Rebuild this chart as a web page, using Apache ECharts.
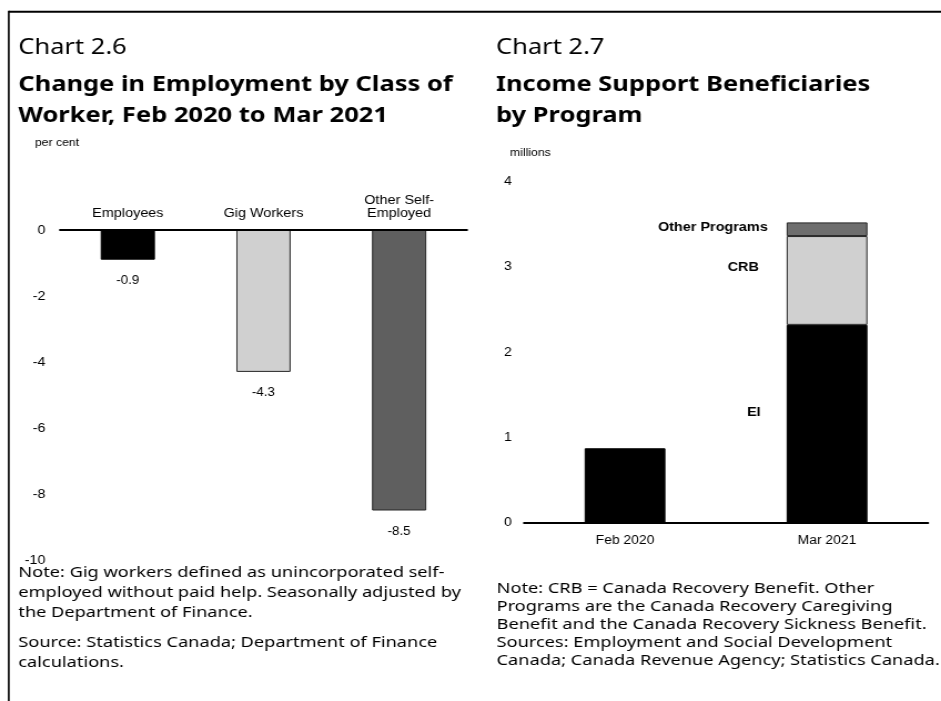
<!DOCTYPE html>
<html>
<head>
<meta charset="utf-8">
<style>
  html, body { margin: 0; padding: 0; background: #fff; overflow: hidden; }
  /* the page artwork is laid out 848 px wide and widened to fill 941 px */
  #main { width: 848px; height: 701px; transform: scaleX(1.1097); transform-origin: 0 0; }
</style>
<script src="https://cdn.jsdelivr.net/npm/echarts@6/dist/echarts.min.js"></script>
</head>
<body>
<div id="main"></div>
<script>
// Chart 2.6 — change in employment by class of worker (per cent)
const workerClasses = ['Employees', 'Gig Workers', 'Other Self-\nEmployed'];
const employmentChange = [-0.9, -4.3, -8.5];
const workerColors = ['#000000', '#d0d0d0', '#5f5f5f'];
const pctTicks = [0, -2, -4, -6, -8, -10];

// Chart 2.7 — income support beneficiaries by program (millions)
const periods = ['Feb 2020', 'Mar 2021'];
const eiValues = [0.875, 2.32];
const crbValues = [null, 1.04];
const otherValues = [null, 0.16];
const millionTicks = [0, 1, 2, 3, 4];

const SANS = '"Liberation Sans", Arial, sans-serif';
const UI = '"Noto Sans", "Open Sans", sans-serif';
const TEXT_WIDEN = 1.093;   // extra horizontal widening of the headings and notes

const chart = echarts.init(document.getElementById('main'), null, { renderer: 'canvas' });

// one line of heading / note text, anchored by its left edge and vertical middle
function line(text, x, y, size, weight) {
  return {
    type: 'text', x: x, y: y, scaleX: TEXT_WIDEN, silent: true,
    style: {
      text: text, x: 0, y: 0, fill: '#000',
      fontFamily: UI, fontSize: size, fontWeight: weight,
      textAlign: 'left', align: 'left', textVerticalAlign: 'middle', verticalAlign: 'middle'
    }
  };
}
function unitText(text, x, y) {
  return {
    type: 'text', x: x, y: y, silent: true,
    style: {
      text: text, x: 0, y: 0, fill: '#000',
      fontFamily: SANS, fontSize: 11,
      textAlign: 'left', align: 'left', textVerticalAlign: 'middle', verticalAlign: 'middle'
    }
  };
}

const leftNote = [
  'Note: Gig workers defined as unincorporated self-',
  'employed without paid help. Seasonally adjusted by',
  'the Department of Finance.'
];
const leftSource = ['Source: Statistics Canada; Department of Finance', 'calculations.'];
const rightNote = [
  'Note: CRB = Canada Recovery Benefit. Other',
  'Programs are the Canada Recovery Caregiving',
  'Benefit and the Canada Recovery Sickness Benefit.',
  'Sources: Employment and Social Development',
  'Canada; Canada Revenue Agency; Statistics Canada.'
];

const graphics = [
  // frame
  { type: 'line', silent: true, shape: { x1: 7.9, y1: 11.8, x2: 848, y2: 11.8 }, style: { stroke: '#000', lineWidth: 2 } },
  { type: 'line', silent: true, shape: { x1: 7.9, y1: 10.8, x2: 7.9, y2: 701 }, style: { stroke: '#000', lineWidth: 1.6 } },
  // headings
  line('Chart 2.6', 16.5, 48.5, 21, 'normal'),
  line('Change in Employment by Class of', 16.5, 85, 21, 'bold'),
  line('Worker, Feb 2020 to Mar 2021', 16.5, 116, 21, 'bold'),
  line('Chart 2.7', 447, 48.5, 21, 'normal'),
  line('Income Support Beneficiaries', 447, 85, 21, 'bold'),
  line('by Program', 447, 116, 21, 'bold'),
  unitText('per cent', 31.5, 143),
  unitText('millions', 459.6, 152.5)
];
leftNote.forEach(function (t, i) { graphics.push(line(t, 16.5, 572.5 + i * 20, 15, 'normal')); });
leftSource.forEach(function (t, i) { graphics.push(line(t, 16.5, 642.7 + i * 20, 15, 'normal')); });
rightNote.forEach(function (t, i) { graphics.push(line(t, 447.5, 589.2 + i * 17.8, 15, 'normal')); });

function stackLabel(text, distance, dy) {
  return {
    show: true, position: 'left', distance: distance, offset: [0, dy],
    fontFamily: SANS, fontSize: 13, fontWeight: 'bold', color: '#000',
    formatter: text
  };
}

const option = {
  animation: false,
  backgroundColor: '#fff',
  graphic: graphics,
  grid: [
    { left: 54.07, right: 427.2, top: 230, height: 330 },
    { left: 472.2, right: 11.7, top: 181.4, height: 341.6 }
  ],
  xAxis: [
    {
      type: 'category', gridIndex: 0, position: 'top', data: workerClasses,
      axisLine: { show: true, onZero: false, lineStyle: { color: '#000', width: 2 } },
      axisTick: { show: false },
      axisLabel: { fontFamily: SANS, fontSize: 13, color: '#000', margin: 10, lineHeight: 13, interval: 0 },
      z: 5
    },
    {
      type: 'category', gridIndex: 1, data: periods,
      axisLine: { show: true, lineStyle: { color: '#000', width: 2 } },
      axisTick: { show: false },
      axisLabel: { fontFamily: SANS, fontSize: 12.5, color: '#000', margin: 11 },
      z: 5
    }
  ],
  yAxis: [
    {
      type: 'value', gridIndex: 0, min: -10, max: 0, interval: 2,
      axisLine: { show: false }, axisTick: { show: false }, splitLine: { show: false },
      axisLabel: {
        fontFamily: SANS, fontSize: 13, color: '#000', margin: 13,
        formatter: function (v) { return pctTicks.indexOf(v) >= 0 ? String(v) : ''; }
      }
    },
    {
      type: 'value', gridIndex: 1, min: 0, max: 4, interval: 1,
      axisLine: { show: false }, axisTick: { show: false }, splitLine: { show: false },
      axisLabel: {
        fontFamily: SANS, fontSize: 12.5, color: '#000', margin: 11,
        formatter: function (v) { return millionTicks.indexOf(v) >= 0 ? String(v) : ''; }
      }
    }
  ],
  series: [
    {
      name: 'Change in employment',
      type: 'bar', xAxisIndex: 0, yAxisIndex: 0, barWidth: '40%',
      data: employmentChange.map(function (v, i) {
        return {
          value: v,
          itemStyle: {
            color: workerColors[i],
            borderColor: i === 0 ? '#000' : '#262626',
            borderWidth: 1
          }
        };
      }),
      label: {
        show: true, position: 'bottom', distance: 15,
        fontFamily: SANS, fontSize: 12, color: '#000',
        formatter: function (p) { return p.value.toFixed(1); }
      }
    },
    {
      name: 'EI',
      type: 'bar', stack: 'programs', xAxisIndex: 1, yAxisIndex: 1, barWidth: '40%',
      itemStyle: { color: '#000', borderColor: '#000', borderWidth: 1 },
      data: eiValues.map(function (v, i) {
        return i === 1 ? { value: v, label: stackLabel('EI', 23.4, -12) } : v;
      })
    },
    {
      name: 'CRB',
      type: 'bar', stack: 'programs', xAxisIndex: 1, yAxisIndex: 1, barWidth: '40%',
      itemStyle: { color: '#d0d0d0', borderColor: '#262626', borderWidth: 1 },
      data: crbValues.map(function (v, i) {
        return i === 1 ? { value: v, label: stackLabel('CRB', 25, -13) } : v;
      })
    },
    {
      name: 'Other Programs',
      type: 'bar', stack: 'programs', xAxisIndex: 1, yAxisIndex: 1, barWidth: '40%',
      itemStyle: { color: '#6e6e6e', borderColor: '#262626', borderWidth: 1 },
      data: otherValues.map(function (v, i) {
        return i === 1 ? { value: v, label: stackLabel('Other Programs', 17, -2) } : v;
      })
    }
  ]
};

chart.setOption(option);
</script>
</body>
</html>
